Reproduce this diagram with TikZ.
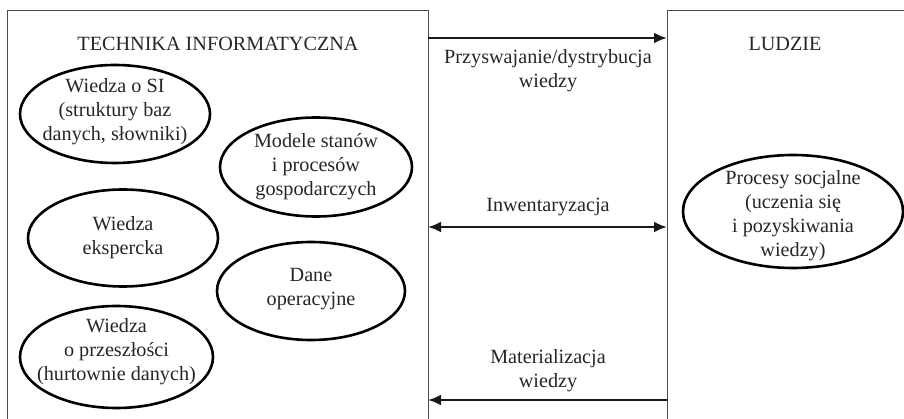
\documentclass[tikz,border=0pt]{standalone}
\usepackage{fontspec}
\setmainfont{Liberation Serif}
\usetikzlibrary{shapes.geometric,arrows.meta}
\begin{document}
\begin{tikzpicture}[x=1pt,y=-1pt,
  every node/.style={font=\fontsize{20.2}{24}\selectfont, text=black!85},
  oval/.style={ellipse, draw, line width=2.6pt, inner sep=0pt},
  otext/.style={align=center, inner sep=0pt},
  frame/.style={draw=black!70, line width=1pt},
  conn/.style={line width=2.6pt, black!90},
  tip/.style={-{Latex[length=13pt,width=11pt]}}
]
\useasboundingbox (0,0) rectangle (904,419);
\clip (0,0) rectangle (904,419);
\draw[frame] (7,11) rectangle (428,440);
\draw[frame] (667,11) rectangle (920,440);
\node (lt) at (218,44) {TECHNIKA INFORMATYCZNA};
\node (rt) at (785,44) {LUDZIE};

\node[oval, minimum width=190pt, minimum height=98pt] (e1) at (115,114) {};
\node[otext] (e1t) at (115,112) {Wiedza o SI\\(struktury baz\\danych, słowniki)};
\node[oval, minimum width=192pt, minimum height=99pt] (e2) at (316,167) {};
\node[otext] (e2t) at (316,167) {Modele stanów\\i procesów\\gospodarczych};
\node[oval, minimum width=190pt, minimum height=97pt] (e3) at (123,238) {};
\node[otext] (e3t) at (123,238) {Wiedza\\ekspercka};
\node[oval, minimum width=188pt, minimum height=98pt] (e4) at (311,291) {};
\node[otext] (e4t) at (311,289) {Dane\\operacyjne};
\node[oval, minimum width=193pt, minimum height=102pt] (e5) at (116.5,357) {};
\node[otext] (e5t) at (116.5,352) {Wiedza\\o przeszłości\\(hurtownie danych)};
\node[oval, minimum width=220pt, minimum height=113pt] (e6) at (793,211.5) {};
\node[otext] (e6t) at (793,216) {Procesy socjalne\\(uczenia się\\i pozyskiwania\\wiedzy)};

\coordinate (a1s) at (428,38); \coordinate (a1e) at (667,38);
\coordinate (a2s) at (428,227); \coordinate (a2e) at (667,227);
\coordinate (a3s) at (667,400); \coordinate (a3e) at (428,400);
\draw[conn, tip] (a1s) -- (a1e);
\draw[conn, {Latex[length=13pt,width=11pt]}-{Latex[length=13pt,width=11pt]}] (a2s) -- (a2e);
\draw[conn, tip] (a3s) -- (a3e);

\node[align=center] (l1) at (548,71) {Przyswajanie/dystrybucja\\wiedzy};
\node (l2) at (548,207) {Inwentaryzacja};
\node[align=center] (l3) at (548,371) {Materializacja\\wiedzy};
\end{tikzpicture}
\end{document}
